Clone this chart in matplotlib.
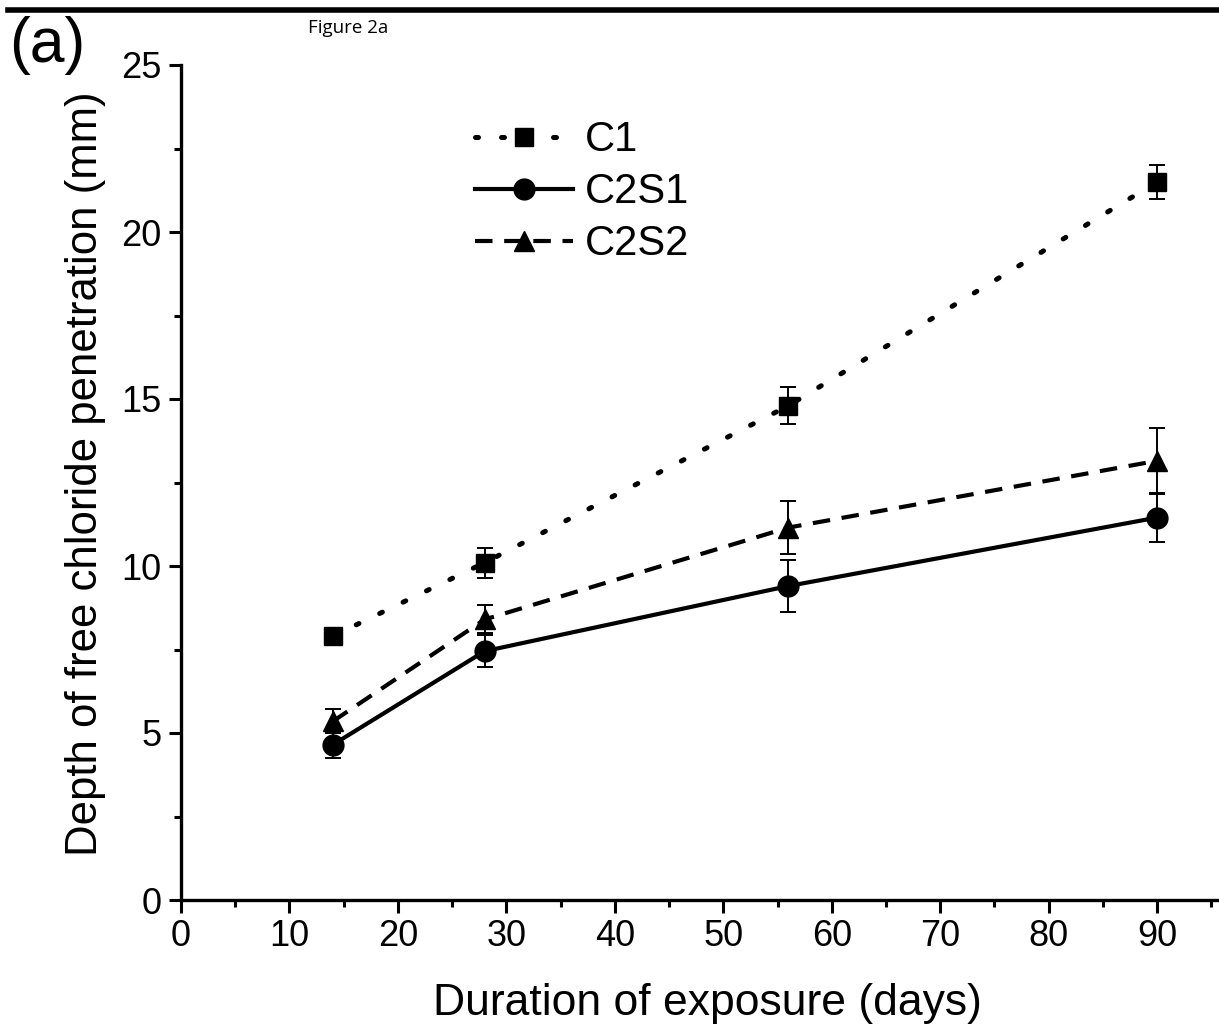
import numpy as np
import matplotlib
matplotlib.use('Agg')
import matplotlib.pyplot as plt
from matplotlib.lines import Line2D
from matplotlib.ticker import MultipleLocator

plt.rcParams['font.family'] = ['Liberation Sans', 'DejaVu Sans']

# --- data ---
days = [14, 28, 56, 90]
c1 = [7.9, 10.1, 14.8, 21.5]
c1_err = [0.2, 0.45, 0.55, 0.5]
c2s1 = [4.65, 7.45, 9.4, 11.45]
c2s1_err = [0.4, 0.48, 0.78, 0.72]
c2s2 = [5.35, 8.4, 11.15, 13.15]
c2s2_err = [0.36, 0.42, 0.8, 0.97]

W, H = 1219, 1033
fig = plt.figure(figsize=(W / 100, H / 100), dpi=100)
ax = fig.add_axes([181 / W, 1 - 900 / H, 1 - 181 / W, (900 - 65) / H])

common = dict(color='black', ecolor='black', elinewidth=1.4, capsize=6,
              capthick=1.4, clip_on=False)

e1 = ax.errorbar(days, c1, yerr=c1_err, marker='s', markersize=13,
                 linewidth=3.6, dashes=(0.6, 4.6), dash_capstyle='round',
                 label='C1', **common)
e2 = ax.errorbar(days, c2s1, yerr=c2s1_err, marker='o', markersize=15,
                 linewidth=3.0, linestyle='-', label='C2S1', **common)
e3 = ax.errorbar(days, c2s2, yerr=c2s2_err, marker='^', markersize=15,
                 linewidth=3.0, dashes=(4.2, 2.8), label='C2S2', **common)

ax.set_xlim(0, 95.7)
ax.set_ylim(0, 25)
ax.xaxis.set_major_locator(MultipleLocator(10))
ax.xaxis.set_minor_locator(MultipleLocator(5))
ax.yaxis.set_major_locator(MultipleLocator(5))
ax.yaxis.set_minor_locator(MultipleLocator(2.5))

for s in ['top', 'right']:
    ax.spines[s].set_visible(False)
for s in ['left', 'bottom']:
    ax.spines[s].set_linewidth(2.4)

ax.tick_params(which='major', direction='out', length=9, width=2.2,
               labelsize=26, pad=5)
ax.tick_params(which='minor', direction='out', length=5, width=2.2)

ax.set_xlabel('Duration of exposure (days)', fontsize=32)
ax.set_ylabel('Depth of free chloride penetration (mm)', fontsize=31.5)
ax.xaxis.set_label_coords(0.507, -0.1)
ax.yaxis.set_label_coords(-0.072, 0.51)

ax.legend(handles=[e1[0], e2[0], e3[0]], labels=['C1', 'C2S1', 'C2S2'],
          loc='upper left', bbox_to_anchor=(0.283, 0.934),
          frameon=False, fontsize=30, handlelength=2.35,
          handletextpad=0.3, labelspacing=0.29, borderpad=0,
          borderaxespad=0, numpoints=1)

# panel letter, caption and top rule
fig.text(9 / W, 1 - 62 / H, '(a)', fontsize=45, ha='left', va='baseline')
fig.text(308 / W, 1 - 33 / H, 'Figure 2a', fontsize=13.5, ha='left',
         va='baseline', family=['Open Sans', 'DejaVu Sans'])
fig.add_artist(Line2D([8 / W, 1], [1 - 9.5 / H, 1 - 9.5 / H], color='black',
                      linewidth=4, transform=fig.transFigure, zorder=10))

fig.savefig('out.png', dpi=100)
